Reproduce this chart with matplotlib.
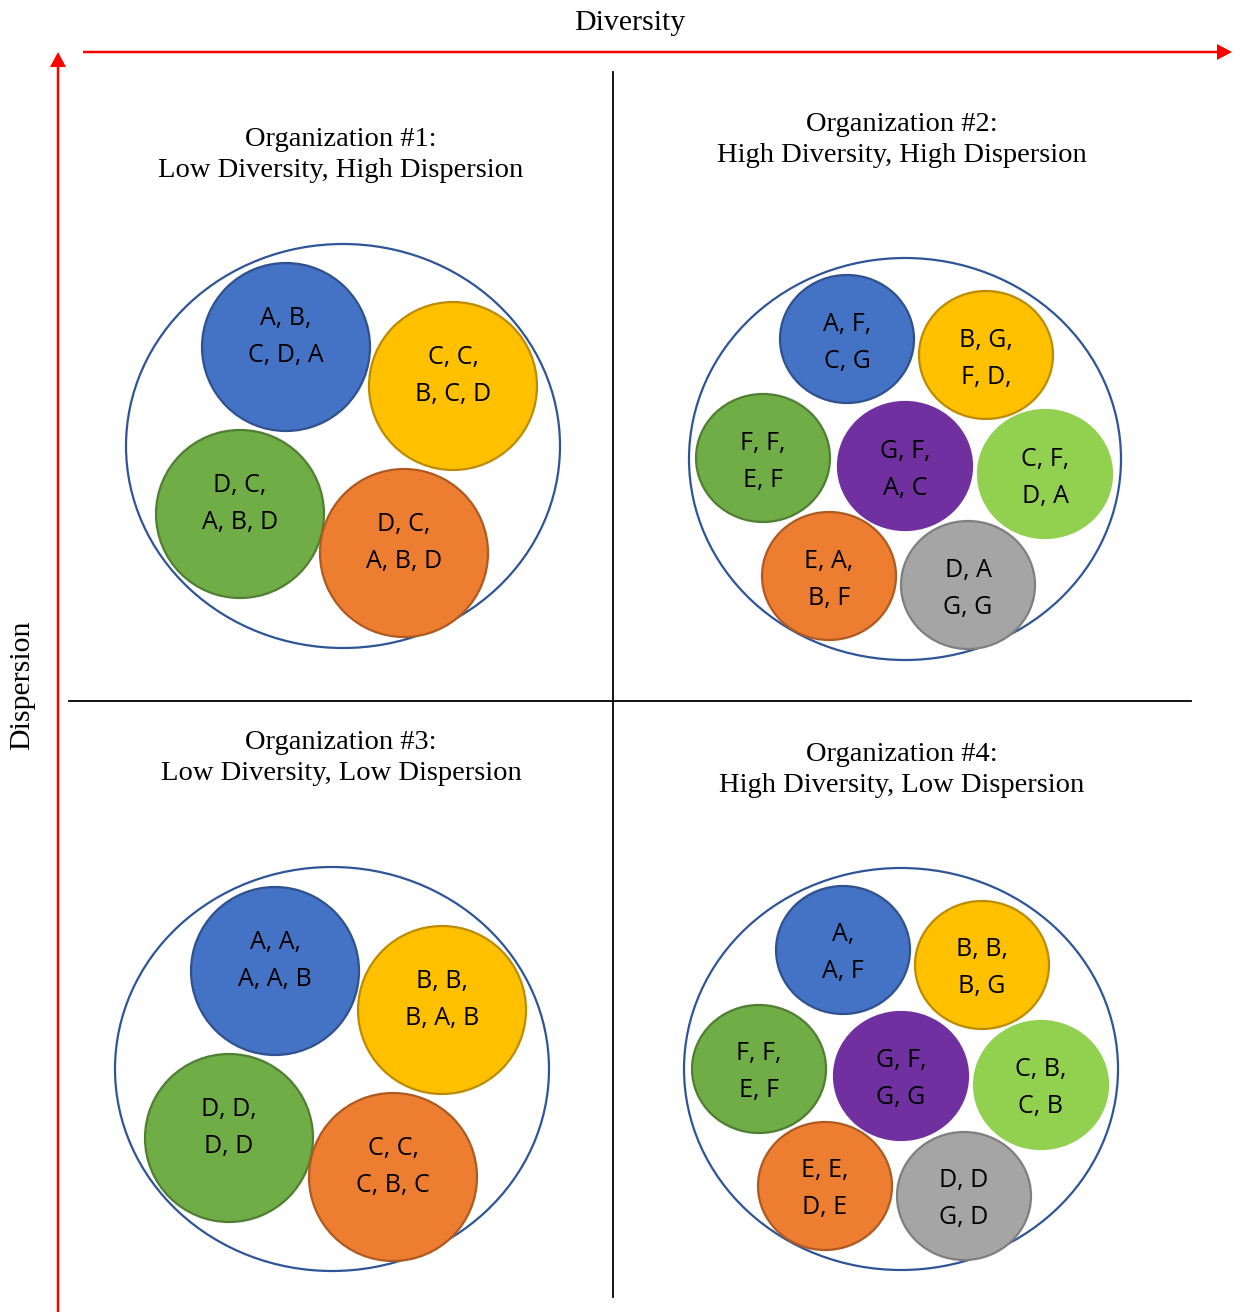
import matplotlib.pyplot as plt
from matplotlib.patches import Ellipse, FancyArrow

# data: quadrant titles and the group labels in each circle
titles = [
    "Organization #1:\nLow Diversity, High Dispersion",
    "Organization #2:\nHigh Diversity, High Dispersion",
    "Organization #3:\nLow Diversity, Low Dispersion",
    "Organization #4:\nHigh Diversity, Low Dispersion",
]
labels_org1 = ["A, B,\nC, D, A", "C, C,\nB, C, D", "D, C,\nA, B, D", "D, C,\nA, B, D"]
labels_org2 = ["A, F,\nC, G", "B, G,\nF, D,", "F, F,\nE, F", "G, F,\nA, C",
               "C, F,\nD, A", "E, A,\nB, F", "D, A\nG, G"]
labels_org3 = ["A, A,\nA, A, B", "B, B,\nB, A, B", "D, D,\nD, D", "C, C,\nC, B, C"]
labels_org4 = ["A,\nA, F", "B, B,\nB, G", "F, F,\nE, F", "G, F,\nG, G",
               "C, B,\nC, B", "E, E,\nD, E", "D, D\nG, D"]

# colours (fill, edge)
BLUE = ("#4472C4", "#2F528F")
YELLOW = ("#FFC000", "#BC8C00")
GREEN = ("#70AD47", "#507E32")
ORANGE = ("#ED7D31", "#AE5A21")
PURPLE = ("#7030A0", "#7030A0")
LGREEN = ("#92D050", "#92D050")
GRAY = ("#A5A5A5", "#7F7F7F")

colors4 = [BLUE, YELLOW, GREEN, ORANGE]
colors7 = [BLUE, YELLOW, GREEN, PURPLE, LGREEN, ORANGE, GRAY]

# layout in pixel coordinates
title_pos = [(341, 155), (902, 140), (341, 758), (902, 770)]
big = [(343, 446, 434, 404), (905, 459, 432, 402), (332, 1069, 434, 404), (901, 1069, 434, 402)]
pos1 = [(286, 347), (453, 386), (240, 514), (404, 553)]
pos2 = [(847, 339), (986, 355), (763, 458), (905, 466), (1045, 474), (829, 576), (968, 585)]
pos3 = [(275, 971), (442, 1010), (229, 1138), (393, 1177)]
pos4 = [(843, 950), (982, 965), (759, 1069), (901, 1076), (1041, 1085), (825, 1186), (964, 1196)]

serif = "Liberation Serif"
sans = "Open Sans"

fig = plt.figure(figsize=(12.4, 13.12), dpi=100)
ax = fig.add_axes([0, 0, 1, 1])
ax.set_xlim(0, 1240)
ax.set_ylim(1312, 0)
ax.axis("off")

# axes arrows
ax.add_patch(FancyArrow(83, 52, 1149, 0, width=2.5, head_width=16, head_length=15,
                        length_includes_head=True, color="#FF0000", lw=0))
ax.add_patch(FancyArrow(58, 1312, 0, -1260, width=2.5, head_width=16, head_length=15,
                        length_includes_head=True, color="#FF0000", lw=0))
ax.text(630, 23, "Diversity", ha="center", va="center", fontsize=21.5, family=serif)
ax.text(22, 685, "Dispersion", ha="center", va="center", rotation=90, fontsize=21.5, family=serif)

# quadrant lines
ax.plot([613, 613], [72, 1297], color="black", lw=1.3)
ax.plot([69, 1191], [701, 701], color="black", lw=1.3)

for t, (x, y) in zip(titles, title_pos):
    ax.text(x, y, t, ha="center", va="center", fontsize=20.5, family=serif, linespacing=1.32)

for cx, cy, w, h in big:
    ax.add_patch(Ellipse((cx, cy), w, h, fc="none", ec="#2F5597", lw=1.6))


def draw_groups(positions, labels, colors, w, h, dy):
    for (x, y), lab, (fc, ec) in zip(positions, labels, colors):
        ax.add_patch(Ellipse((x, y), w, h, fc=fc, ec=ec, lw=1.6))
        ax.text(x, y + dy, lab, ha="center", va="center", fontsize=18, family=sans,
                linespacing=1.62)


draw_groups(pos1, labels_org1, colors4, 168, 168, -10)
draw_groups(pos2, labels_org2, colors7, 134, 128, 4)
draw_groups(pos3, labels_org3, colors4, 168, 168, -10)
draw_groups(pos4, labels_org4, colors7, 134, 128, 3)

fig.savefig("out.png", dpi=100)
